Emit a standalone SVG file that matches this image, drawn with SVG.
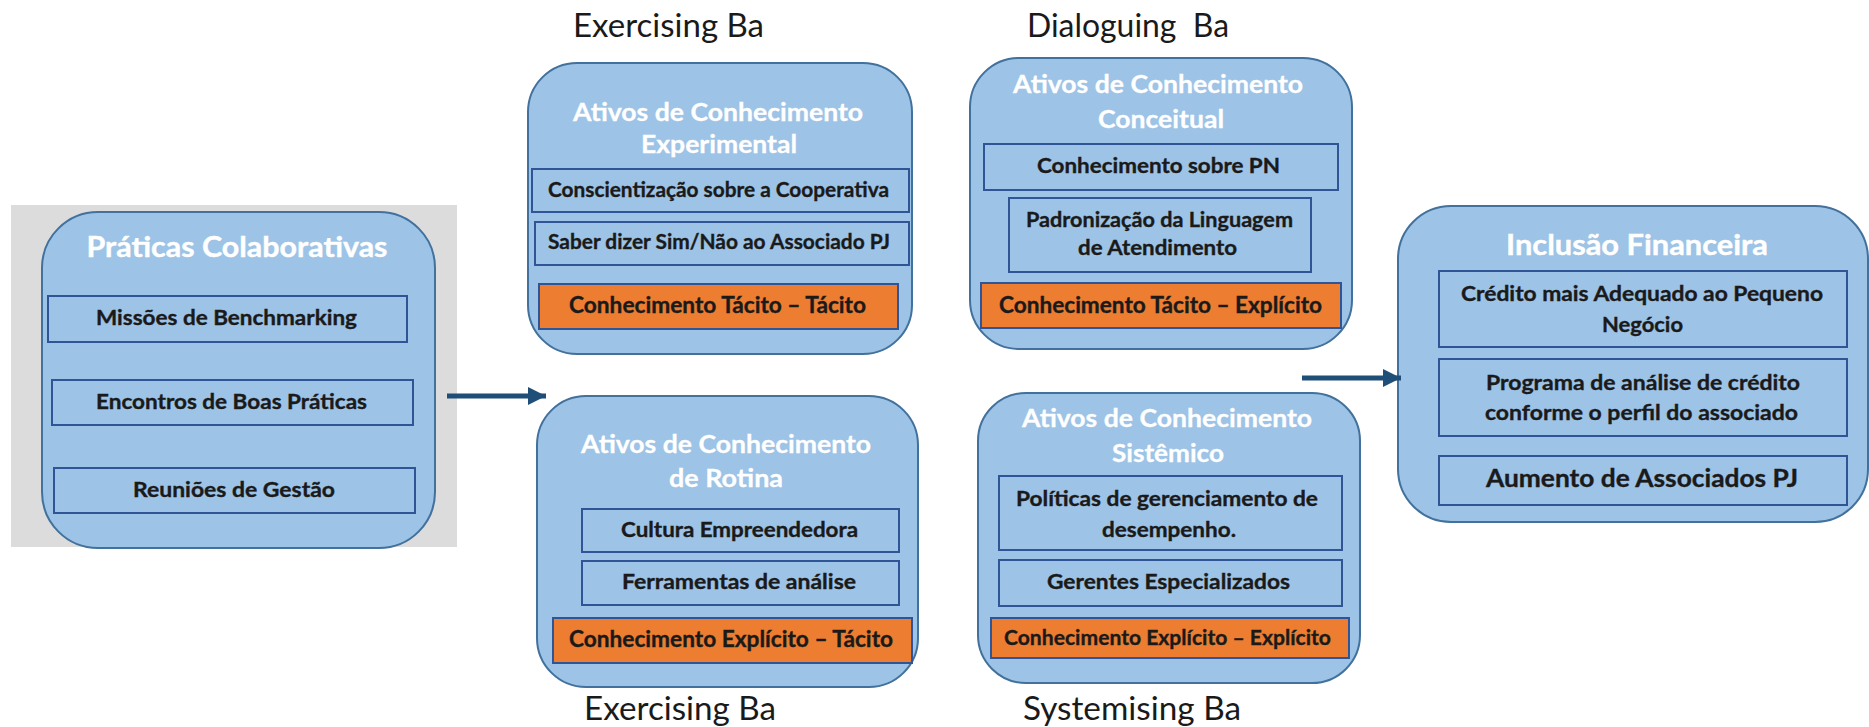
<svg xmlns="http://www.w3.org/2000/svg" width="1869" height="727" viewBox="0 0 1869 727">
  <style>
    .node { fill: #9dc3e6; stroke: #41719c; stroke-width: 2; }
    .box { fill: none; stroke: #2f5597; stroke-width: 2; }
    .obox { fill: #ed7d31; stroke: #2f5597; stroke-width: 2; }
    text { font-family: Lato, "Noto Sans", "Liberation Sans", sans-serif; }
    .big { font-size: 28px; font-weight: 700; fill: #ffffff; stroke: #ffffff; stroke-width: 0.4; text-anchor: middle; }
    .ttl { font-size: 24px; font-weight: 700; fill: #ffffff; stroke: #ffffff; stroke-width: 0.3; text-anchor: middle; }
    .lbl { font-size: 21px; font-weight: 700; fill: #1a1a1a; stroke: #1a1a1a; stroke-width: 0.35; }
    .olbl { font-size: 22px; font-weight: 700; fill: #1a1a1a; stroke: #1a1a1a; stroke-width: 0.35; }
    .ba { font-size: 32px; font-weight: 400; fill: #1a1a1a; }
    .conn { stroke: #1f4e79; stroke-width: 5; fill: none; }
  </style>
  <defs>
    <marker id="head" viewBox="0 0 10 10" refX="10" refY="5" markerWidth="3.6" markerHeight="3.6" orient="auto" markerUnits="strokeWidth">
      <path d="M0,0 L10,5 L0,10 Z" fill="#1f4e79"/>
    </marker>
  </defs>

  <!-- Ba labels -->
  <g id="ba-labels">
    <text class="ba" x="573" y="37" textLength="191" lengthAdjust="spacingAndGlyphs">Exercising Ba</text>
    <text class="ba" x="1027" y="37" textLength="202" lengthAdjust="spacingAndGlyphs" xml:space="preserve">Dialoguing  Ba</text>
    <text class="ba" x="584" y="720" textLength="192" lengthAdjust="spacingAndGlyphs">Exercising Ba</text>
    <text class="ba" x="1023" y="720" textLength="218" lengthAdjust="spacingAndGlyphs">Systemising Ba</text>
  </g>

  <!-- Collaborative practices -->
  <g id="praticas">
    <rect x="11" y="205" width="446" height="342" fill="#dcdcdd"/>
    <rect class="node" x="42" y="212" width="393" height="336" rx="56" ry="56"/>
    <text class="big" x="237" y="257" textLength="301" lengthAdjust="spacingAndGlyphs">Práticas Colaborativas</text>
    <rect class="box" x="48" y="296" width="359" height="46"/>
    <text class="lbl" x="96" y="325" textLength="261" lengthAdjust="spacingAndGlyphs">Missões de Benchmarking</text>
    <rect class="box" x="52" y="380" width="361" height="45"/>
    <text class="lbl" x="96" y="409" textLength="271" lengthAdjust="spacingAndGlyphs">Encontros de Boas Práticas</text>
    <rect class="box" x="54" y="468" width="361" height="45"/>
    <text class="lbl" x="133" y="497" textLength="202" lengthAdjust="spacingAndGlyphs">Reuniões de Gestão</text>
  </g>

  <!-- Experimental knowledge assets -->
  <g id="experimental">
    <rect class="node" x="528" y="63" width="384" height="291" rx="49" ry="49"/>
    <text class="ttl" x="718" y="121" textLength="290" lengthAdjust="spacingAndGlyphs">Ativos de Conhecimento</text>
    <text class="ttl" x="719" y="153" textLength="156" lengthAdjust="spacingAndGlyphs">Experimental</text>
    <rect class="box" x="532" y="169" width="377" height="43"/>
    <text class="lbl" x="548" y="197" textLength="341" lengthAdjust="spacingAndGlyphs">Conscientização sobre a Cooperativa</text>
    <rect class="box" x="535" y="222" width="374" height="43"/>
    <text class="lbl" x="548" y="249" textLength="342" lengthAdjust="spacingAndGlyphs">Saber dizer Sim/Não ao Associado PJ</text>
    <rect class="obox" x="539" y="284" width="359" height="45"/>
    <text class="olbl" x="569" y="313" textLength="297" lengthAdjust="spacingAndGlyphs">Conhecimento Tácito – Tácito</text>
  </g>

  <!-- Routine knowledge assets -->
  <g id="rotina">
    <rect class="node" x="537" y="396" width="381" height="291" rx="49" ry="49"/>
    <text class="ttl" x="726" y="453" textLength="290" lengthAdjust="spacingAndGlyphs">Ativos de Conhecimento</text>
    <text class="ttl" x="726" y="487" textLength="114" lengthAdjust="spacingAndGlyphs">de Rotina</text>
    <rect class="box" x="582" y="509" width="317" height="43"/>
    <text class="lbl" x="621" y="537" textLength="237" lengthAdjust="spacingAndGlyphs">Cultura Empreendedora</text>
    <rect class="box" x="582" y="561" width="317" height="44"/>
    <text class="lbl" x="622" y="589" textLength="234" lengthAdjust="spacingAndGlyphs">Ferramentas de análise</text>
    <rect class="obox" x="553" y="618" width="359" height="45"/>
    <text class="olbl" x="569" y="647" textLength="324" lengthAdjust="spacingAndGlyphs">Conhecimento Explícito – Tácito</text>
  </g>

  <!-- Conceptual knowledge assets -->
  <g id="conceitual">
    <rect class="node" x="970" y="58" width="382" height="291" rx="49" ry="49"/>
    <text class="ttl" x="1158" y="93" textLength="290" lengthAdjust="spacingAndGlyphs">Ativos de Conhecimento</text>
    <text class="ttl" x="1161" y="128" textLength="126" lengthAdjust="spacingAndGlyphs">Conceitual</text>
    <rect class="box" x="984" y="144" width="354" height="46"/>
    <text class="lbl" x="1037" y="173" textLength="243" lengthAdjust="spacingAndGlyphs">Conhecimento sobre PN</text>
    <rect class="box" x="1009" y="198" width="302" height="74"/>
    <text class="lbl" x="1026" y="227" textLength="267" lengthAdjust="spacingAndGlyphs">Padronização da Linguagem</text>
    <text class="lbl" x="1078" y="255" textLength="159" lengthAdjust="spacingAndGlyphs">de Atendimento</text>
    <rect class="obox" x="981" y="283" width="360" height="45"/>
    <text class="olbl" x="999" y="313" textLength="323" lengthAdjust="spacingAndGlyphs">Conhecimento Tácito – Explícito</text>
  </g>

  <!-- Systemic knowledge assets -->
  <g id="sistemico">
    <rect class="node" x="978" y="393" width="382" height="290" rx="48" ry="48"/>
    <text class="ttl" x="1167" y="427" textLength="290" lengthAdjust="spacingAndGlyphs">Ativos de Conhecimento</text>
    <text class="ttl" x="1168" y="462" textLength="112" lengthAdjust="spacingAndGlyphs">Sistêmico</text>
    <rect class="box" x="999" y="476" width="343" height="74"/>
    <text class="lbl" x="1016" y="506" textLength="302" lengthAdjust="spacingAndGlyphs">Políticas de gerenciamento de</text>
    <text class="lbl" x="1102" y="537" textLength="134" lengthAdjust="spacingAndGlyphs">desempenho.</text>
    <rect class="box" x="999" y="560" width="343" height="46"/>
    <text class="lbl" x="1047" y="589" textLength="243" lengthAdjust="spacingAndGlyphs">Gerentes Especializados</text>
    <rect class="obox" x="991" y="618" width="358" height="40"/>
    <text class="lbl" x="1004" y="645" textLength="327" lengthAdjust="spacingAndGlyphs">Conhecimento Explícito – Explícito</text>
  </g>

  <!-- Financial inclusion -->
  <g id="inclusao">
    <rect class="node" x="1398" y="206" width="470" height="316" rx="53" ry="53"/>
    <text class="big" x="1637" y="255" textLength="262" lengthAdjust="spacingAndGlyphs">Inclusão Financeira</text>
    <rect class="box" x="1439" y="271" width="408" height="76"/>
    <text class="lbl" x="1461" y="301" textLength="362" lengthAdjust="spacingAndGlyphs">Crédito mais Adequado ao Pequeno</text>
    <text class="lbl" x="1602" y="332" textLength="81" lengthAdjust="spacingAndGlyphs">Negócio</text>
    <rect class="box" x="1439" y="359" width="408" height="77"/>
    <text class="lbl" x="1486" y="390" textLength="314" lengthAdjust="spacingAndGlyphs">Programa de análise de crédito</text>
    <text class="lbl" x="1485" y="420" textLength="313" lengthAdjust="spacingAndGlyphs">conforme o perfil do associado</text>
    <rect class="box" x="1439" y="456" width="408" height="49"/>
    <text class="lbl" x="1486" y="487" style="font-size:24px" textLength="312" lengthAdjust="spacingAndGlyphs">Aumento de Associados PJ</text>
  </g>

  <!-- Connectors -->
  <g id="connectors">
    <line class="conn" x1="447" y1="396" x2="546" y2="396" marker-end="url(#head)"/>
    <line class="conn" x1="1302" y1="378" x2="1401" y2="378" marker-end="url(#head)"/>
  </g>
</svg>
